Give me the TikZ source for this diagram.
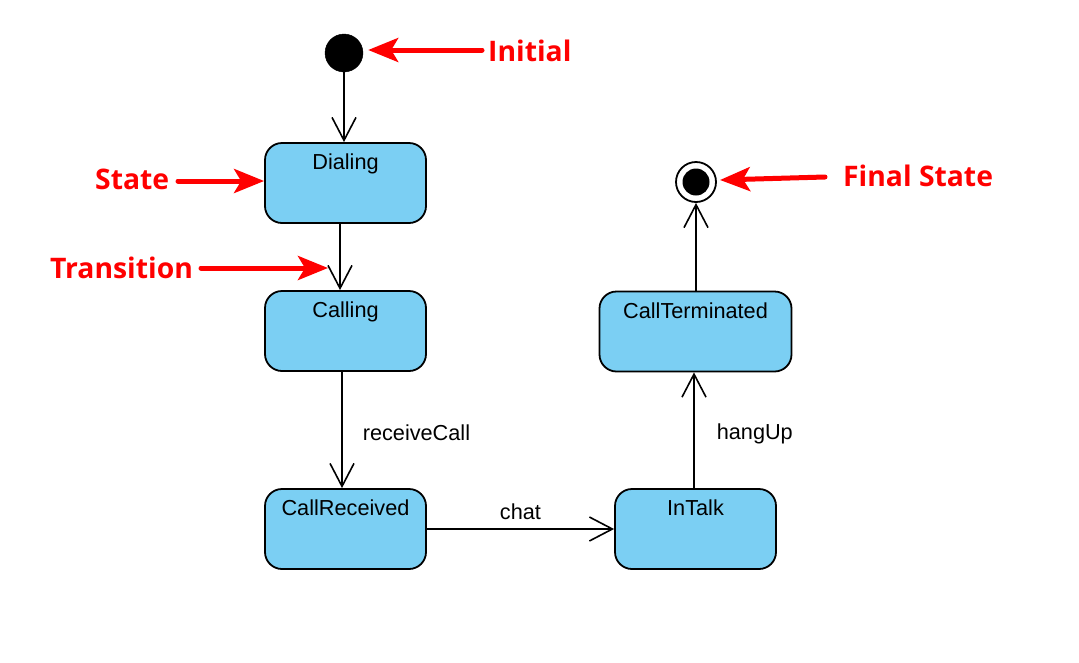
\documentclass[tikz,border=0pt]{standalone}
\usepackage{fontspec}
\setmainfont{Liberation Sans}
\newfontfamily\redfont{Open Sans}
\usetikzlibrary{arrows.meta}
\definecolor{stfill}{RGB}{123,207,243}
\definecolor{pured}{RGB}{255,0,0}
\tikzset{
  state/.style={draw=black, line width=1.8pt, fill=stfill, rounded corners=17pt,
    minimum width=161pt, minimum height=80pt, inner sep=0pt},
  stname/.style={anchor=north, inner sep=0pt, yshift=-11.5pt, font=\fontsize{21.7}{24}\selectfont},
  trans/.style={line width=1.6pt, -{Straight Barb[length=23pt,width=24pt]}},
  elabel/.style={font=\fontsize{21.7}{24}\selectfont, inner sep=0pt},
  redarrow/.style={draw=pured, line width=5pt, line cap=round, -{Stealth[length=30pt,width=24pt,inset=7pt]}},
  redtext/.style={text=pured, font=\redfont\bfseries\fontsize{28.3}{32}\selectfont, inner sep=0pt, anchor=west},
}
\begin{document}
\begin{tikzpicture}[x=1pt,y=-1pt]
\useasboundingbox (0,0) rectangle (1079,662);
% initial / final
\node[circle, fill=black, draw=black, minimum size=38pt, inner sep=0pt] (init) at (344,53) {};
\node[circle, draw=black, line width=1.8pt, fill=white, minimum size=40pt, inner sep=0pt] (final) at (696,182) {};
\node[circle, fill=black, minimum size=27pt, inner sep=0pt] (finaldot) at (final.center) {};
% states
\node[state, label={[stname]north:Dialing}] (dial) at (345.5,183) {};
\node[state, label={[stname]north:Calling}] (call) at (345.5,331) {};
\node[state, label={[stname]north:CallReceived}] (recv) at (345.5,529) {};
\node[state, label={[stname]north:InTalk}] (talk) at (695.5,529) {};
\node[state, minimum width=192pt, label={[stname]north:CallTerminated}] (term) at (695.5,331.5) {};
% transitions
\draw[trans] (init) -- (init |- dial.north);
\draw[trans] ([xshift=-5.5pt]dial.south) -- ([xshift=-5.5pt]call.north);
\draw[trans] ([xshift=-3.5pt]call.south) -- node[elabel, anchor=west, xshift=20pt, yshift=-3pt] (lrc) {receiveCall} ([xshift=-3.5pt]recv.north);
\draw[trans] (recv.east) -- node[elabel, above=8pt] (lchat) {chat} (talk.west);
\draw[trans] ([xshift=-1.5pt]talk.north) -- node[elabel, anchor=west, xshift=22pt, yshift=-4pt] (lhang) {hangUp} ([xshift=-1.5pt]term.south);
\draw[trans] (term.north -| final) -- (final.south);
% annotations
\node[redtext] (tinit) at (488,51) {Initial};
\coordinate (ainit) at (482,50);
\draw[redarrow] (ainit) -- ([xshift=5pt]init.east |- ainit);
\node[redtext] (tstate) at (95,179) {State};
\coordinate (astate) at (178,181);
\draw[redarrow] (astate) -- (astate -| dial.west);
\node[redtext] (ttrans) at (50,268) {Transition};
\coordinate (atrans) at (201,268);
\coordinate (atranstip) at (328,268);
\draw[redarrow] (atrans) -- (atranstip);
\node[redtext] (tfinal) at (843,176) {Final State};
\coordinate (afinal) at (825,177);
\coordinate (afinaltip) at (720,180);
\draw[redarrow] (afinal) -- (afinaltip);
\end{tikzpicture}
\end{document}
